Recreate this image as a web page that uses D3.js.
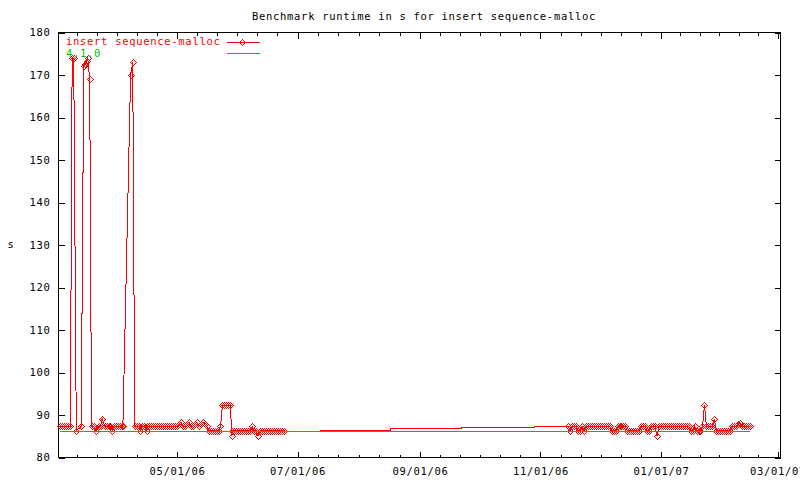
<!DOCTYPE html>
<html><head><meta charset="utf-8">
<script src="https://cdn.jsdelivr.net/npm/d3@7"></script>
<style>
body{margin:0;background:#fff}
text{font-family:"DejaVu Sans Mono",monospace;font-size:10.5px;letter-spacing:0.7px}
</style>
</head><body>
<svg id="chart" width="800" height="480"></svg>
<script>
const chartTitle = "Benchmark runtime in s for insert sequence-malloc";
const yLabel = "s";
const seriesNames = ["insert sequence-malloc", "4.1.0"];
const xDomain = ["2006-03-02 00", "2007-03-02 12"];
const yDomain = [80, 180];
const yTicks = [80, 90, 100, 110, 120, 130, 140, 150, 160, 170, 180];
const xTickDates = ["2006-03-01", "2006-05-01", "2006-07-01", "2006-09-01", "2006-11-01", "2007-01-01", "2007-03-01"];
const xTickLabels = ["03/01/06", "05/01/06", "07/01/06", "09/01/06", "11/01/06", "01/01/07", "03/01/07"];

// red series, first run of measurements (irregular)
const runDatesA = ["2006-03-03","2006-03-04","2006-03-05","2006-03-06","2006-03-07","2006-03-08",
 "2006-03-08 22","2006-03-09 17","2006-03-11","2006-03-13 12",
 "2006-03-14 19","2006-03-15 12","2006-03-16 05","2006-03-16 19","2006-03-17 19",
 "2006-03-18 17","2006-03-19 22","2006-03-21 02","2006-03-22 10","2006-03-23 07","2006-03-24 02","2006-03-25 10",
 "2006-03-26 12","2006-03-27 12","2006-03-28 07","2006-03-29 05","2006-03-30 05","2006-03-31 05","2006-04-01 05",
 "2006-04-02 05","2006-04-02 22","2006-04-03 14",
 "2006-04-07 12","2006-04-08 14",
 "2006-04-09 14","2006-04-10 14","2006-04-11 17","2006-04-12 12","2006-04-13 12","2006-04-14 12","2006-04-15 14"];
const runtimeA = [87.3,87.3,87.3,87.3,87.3,87.3,
 174,174,86.3,87.3,
 172,172.6,173.4,174,169,
 87.3,87.3,86.3,87.3,87.3,89.1,87.3,
 87.3,87.3,87.3,86.3,87.3,87.3,87.3,
 87.3,87.3,87.3,
 170,173,
 87.3,87.3,87.3,86.3,87.3,87.3,86.3];

// red series, daily runs April - June 2006
const runDatesB = ["2006-04-16","2006-04-17","2006-04-18","2006-04-19","2006-04-20","2006-04-21","2006-04-22","2006-04-23",
 "2006-04-24","2006-04-25","2006-04-26","2006-04-27","2006-04-28","2006-04-29","2006-04-30",
 "2006-05-01","2006-05-02","2006-05-03","2006-05-04","2006-05-05","2006-05-06","2006-05-07","2006-05-08",
 "2006-05-09","2006-05-10","2006-05-11","2006-05-12","2006-05-13","2006-05-14","2006-05-15","2006-05-16",
 "2006-05-17","2006-05-18","2006-05-19","2006-05-20","2006-05-21","2006-05-22","2006-05-23","2006-05-24",
 "2006-05-25","2006-05-26","2006-05-27","2006-05-28","2006-05-28 18","2006-05-29","2006-05-30","2006-05-31",
 "2006-06-01","2006-06-02","2006-06-03","2006-06-04","2006-06-05","2006-06-06","2006-06-07","2006-06-08",
 "2006-06-09","2006-06-10","2006-06-11","2006-06-12","2006-06-13","2006-06-14","2006-06-15","2006-06-16",
 "2006-06-17","2006-06-18","2006-06-19","2006-06-20","2006-06-21","2006-06-22","2006-06-23","2006-06-24"];
const runtimeB = [87.3,87.3,87.3,87.3,87.3,87.3,87.3,87.3,
 87.3,87.3,87.3,87.3,87.3,87.3,87.3,
 87.3,87.8,88.3,87.3,87.3,87.8,88.3,87.3,
 87.3,87.8,88.3,87.3,87.8,88.3,87.8,87.3,
 86.3,86.3,86.3,86.3,86.3,86.3,87.3,92.3,
 92.3,92.3,92.3,92.3,85.0,86.3,86.3,86.3,
 86.3,86.3,86.3,86.3,86.3,86.3,86.3,87.3,
 86.3,86.3,85.0,86.3,86.3,86.3,86.3,86.3,
 86.3,86.3,86.3,86.3,86.3,86.3,86.3,86.3];

// red series, sparse summer/autumn values (no markers)
const stepDates = ["2006-07-12 07", "2006-08-17", "2006-09-22", "2006-10-28 18", "2006-11-15"];
const stepRuntime = [86.45, 86.75, 87.0, 87.3, 87.3];

// red series, daily runs Nov 2006 - Feb 2007
const runDatesC = ["2006-11-15","2006-11-16","2006-11-17","2006-11-18","2006-11-19","2006-11-20","2006-11-21","2006-11-22",
 "2006-11-23","2006-11-24","2006-11-25","2006-11-26","2006-11-27","2006-11-28","2006-11-29","2006-11-30",
 "2006-12-01","2006-12-02","2006-12-03","2006-12-04","2006-12-05","2006-12-06","2006-12-07","2006-12-08",
 "2006-12-09","2006-12-10","2006-12-11","2006-12-12","2006-12-13","2006-12-14","2006-12-15","2006-12-16",
 "2006-12-17","2006-12-18","2006-12-19","2006-12-20","2006-12-21","2006-12-22","2006-12-23","2006-12-24",
 "2006-12-25","2006-12-26","2006-12-27","2006-12-28","2006-12-29","2006-12-30","2006-12-31",
 "2007-01-01","2007-01-02","2007-01-03","2007-01-04","2007-01-05","2007-01-06","2007-01-07","2007-01-08",
 "2007-01-09","2007-01-10","2007-01-11","2007-01-12","2007-01-13","2007-01-14","2007-01-15","2007-01-16",
 "2007-01-17","2007-01-18","2007-01-19","2007-01-20","2007-01-21","2007-01-22","2007-01-23","2007-01-24",
 "2007-01-25","2007-01-26","2007-01-27","2007-01-28","2007-01-29","2007-01-30","2007-01-31",
 "2007-02-01","2007-02-02","2007-02-03","2007-02-04","2007-02-05","2007-02-06","2007-02-07","2007-02-08",
 "2007-02-09","2007-02-10","2007-02-11","2007-02-12","2007-02-13","2007-02-14","2007-02-15"];
const runtimeC = [87.3,86.3,87.3,87.3,87.3,86.3,86.3,87.3,
 86.3,87.3,87.3,87.3,87.3,87.3,87.3,87.3,
 87.3,87.3,87.3,87.3,87.3,87.3,86.3,86.3,
 86.3,87.3,87.3,87.3,87.3,87.3,86.3,86.3,
 86.3,86.3,86.3,86.3,86.3,87.3,87.3,87.3,
 86.3,86.3,87.3,87.3,87.3,85.0,87.3,
 87.3,87.3,87.3,87.3,87.3,87.3,87.3,87.3,
 87.3,87.3,87.3,87.3,87.3,87.3,87.3,86.3,
 86.3,87.3,86.3,86.3,86.3,87.3,92.3,87.3,
 87.3,87.3,87.3,89.1,86.3,86.3,86.3,
 86.3,86.3,86.3,86.3,86.3,87.3,87.3,87.3,
 87.8,88.2,87.3,87.3,87.3,87.3,87.3,88.2];

// green reference series "4.1.0"
const refDates = ["2006-03-03", "2007-02-15"];
const refRuntime = [86.15, 86.15];

const colors = ["#ff0000", "#00c000"];

const parse = d3.utcParse("%Y-%m-%d %H");
const pd = s => parse(s.length === 10 ? s + " 00" : s);
const pts = (ds, vs) => ds.map((d, i) => ({date: pd(d), value: vs[i]}));

const svg = d3.select("#chart");
const L = 58.5, R = 780.5, T = 32.5, B = 457.5;
const x = d3.scaleUtc().domain(xDomain.map(pd)).range([L, R]);
const y = d3.scaleLinear().domain(yDomain).range([B, T]);

// title & y label
svg.append("text").attr("x", 424).attr("y", 19.5).attr("text-anchor", "middle").attr("fill", "#000").text(chartTitle);
svg.append("text").attr("x", 11).attr("y", y(130)).attr("dy", "0.32em").attr("text-anchor", "middle").attr("fill", "#000").text(yLabel);

// ticks
const majors = xTickDates.map(pd);
const minors = [];
for (let i = 0; i < majors.length - 1; i++) {
  const a = +majors[i], b = +majors[i + 1];
  for (let k = 1; k < 6; k++) minors.push(new Date(a + (b - a) * k / 6));
}
const inDom = d => d >= x.domain()[0] && d <= x.domain()[1];
const majorsIn = majors.filter(inDom);
const minorsIn = minors.filter(inDom);
const labelOf = d => xTickLabels[majors.findIndex(m => +m === +d)];

function styleAxis(g) {
  g.select(".domain").remove();
  g.selectAll("line").attr("stroke", "#000").attr("shape-rendering", "crispEdges");
  g.selectAll("text").attr("fill", "#000");
  g.attr("font-family", null).attr("font-size", null);
}
svg.append("g").attr("transform", `translate(0,${B})`)
  .call(d3.axisBottom(x).tickValues(majorsIn).tickSize(-6).tickPadding(10).tickFormat(labelOf)).call(styleAxis);
svg.append("g").attr("transform", `translate(0,${B})`)
  .call(d3.axisBottom(x).tickValues(minorsIn).tickSize(-3).tickFormat("")).call(styleAxis);
svg.append("g").attr("transform", `translate(0,${T})`)
  .call(d3.axisTop(x).tickValues(majorsIn).tickSize(-6).tickFormat("")).call(styleAxis);
svg.append("g").attr("transform", `translate(0,${T})`)
  .call(d3.axisTop(x).tickValues(minorsIn).tickSize(-3).tickFormat("")).call(styleAxis);
svg.append("g").attr("transform", `translate(${L},0)`)
  .call(d3.axisLeft(y).tickValues(yTicks).tickSize(-6).tickPadding(8).tickFormat(d3.format("d"))).call(styleAxis);
svg.append("g").attr("transform", `translate(${R},0)`)
  .call(d3.axisRight(y).tickValues(yTicks).tickSize(-6).tickFormat("")).call(styleAxis);

// border
svg.append("rect").attr("x", L).attr("y", T).attr("width", R - L).attr("height", B - T)
  .attr("fill", "none").attr("stroke", "#000").attr("shape-rendering", "crispEdges");

// data
const redPts = pts(runDatesA, runtimeA).concat(pts(runDatesB, runtimeB));
const redPts2 = pts(runDatesC, runtimeC);
const stepPts = pts(stepDates, stepRuntime);
const refPts = pts(refDates, refRuntime);

const line = d3.line().x(d => x(d.date)).y(d => y(d.value));
const stepLine = d3.line().curve(d3.curveStepAfter).x(d => x(d.date)).y(d => y(d.value));

const plot = svg.append("g");
[redPts, redPts2].forEach(p => plot.append("path").datum(p).attr("d", line)
  .attr("fill", "none").attr("stroke", colors[0]).attr("stroke-width", 1).attr("shape-rendering", "crispEdges"));
plot.append("path").datum(stepPts).attr("d", stepLine)
  .attr("fill", "none").attr("stroke", colors[0]).attr("stroke-width", 1).attr("shape-rendering", "crispEdges");

const diamond = "M0,-3L3,0L0,3L-3,0Z";
plot.selectAll("path.pt").data(redPts.concat(redPts2)).join("path").attr("class", "pt")
  .attr("d", diamond)
  .attr("transform", d => `translate(${Math.round(x(d.date)) + 0.5},${Math.round(y(d.value)) + 0.5})`)
  .attr("fill", "none").attr("stroke", colors[0]).attr("stroke-width", 1).attr("shape-rendering", "crispEdges");

plot.append("path").datum(refPts).attr("d", line)
  .attr("fill", "none").attr("stroke", colors[1]).attr("stroke-width", 1).attr("shape-rendering", "crispEdges");

// legend
const lg = svg.append("g");
lg.append("text").attr("x", 66).attr("y", 45).attr("fill", colors[0]).text(seriesNames[0]);
lg.append("line").attr("x1", 226.5).attr("x2", 259.5).attr("y1", 42.5).attr("y2", 42.5)
  .attr("stroke", colors[0]).attr("shape-rendering", "crispEdges");
lg.append("path").attr("d", diamond).attr("transform", "translate(242.5,42.5)")
  .attr("fill", "none").attr("stroke", colors[0]).attr("shape-rendering", "crispEdges");
lg.append("text").attr("x", 66).attr("y", 57).attr("fill", colors[1]).text(seriesNames[1]);
lg.append("line").attr("x1", 226.5).attr("x2", 259.5).attr("y1", 53.5).attr("y2", 53.5)
  .attr("stroke", colors[1]).attr("shape-rendering", "crispEdges");
</script>
</body></html>
